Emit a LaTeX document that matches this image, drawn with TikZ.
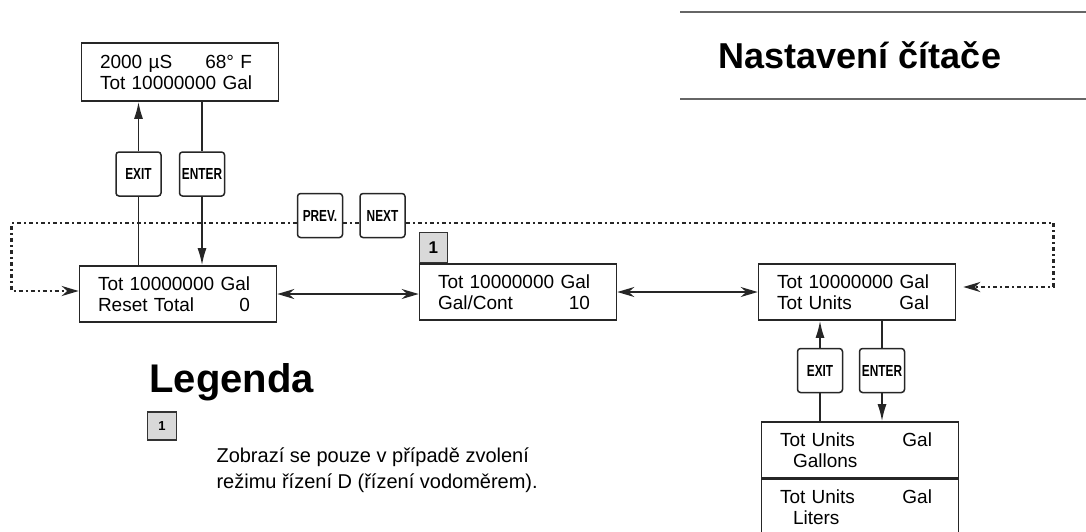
\documentclass[tikz,border=0pt]{standalone}
\usepackage{fontspec}
\setmainfont{Liberation Sans}
\usetikzlibrary{arrows.meta}
\newcommand\lcdrow[2]{\makebox[152pt][l]{#1\hfill#2}}
\newcommand\keytext[1]{\scalebox{0.74}[1]{\bfseries #1}}
\begin{document}
\begin{tikzpicture}[x=1pt,y=1pt,
  lcd/.style={draw=black!85, line width=1.6pt, minimum width=197pt, minimum height=56pt, inner xsep=18pt, inner ysep=0pt, text width=160pt, align=left, font=\fontsize{19}{21}\selectfont},
  keycap/.style={draw=black!85, line width=1.5pt, rounded corners=3pt, minimum width=45pt, minimum height=44pt, inner sep=0pt, font=\fontsize{16}{16}\selectfont},
  optmark/.style={draw=black!80, fill=black!15, line width=1.4pt, inner sep=0pt},
  flow/.style={black!85, line width=1.6pt},
  arr/.style={flow, -{Latex[length=17pt,width=9pt]}},
  dbl/.style={flow, {Stealth[length=17pt,width=10pt]}-{Stealth[length=17pt,width=10pt]}},
  loopline/.style={black!85, line width=2.5pt, dash pattern=on 4pt off 3pt on 2pt off 3pt},
  titleline/.style={black!60, line width=2.5pt}]
\useasboundingbox (0,0) rectangle (1086,-531);
\clip (0,0) rectangle (1086,-531);
\draw [titleline] (680,-12) -- (1086,-12);
\draw [titleline] (680,-99) -- (1086,-99);
\node [anchor=base, font=\fontsize{36}{36}\bfseries] (title) at (860,-68) {Nastavení čítače};
\node [lcd, minimum height=58pt] (lcdmain) at (180,-72) {\lcdrow{2000 µS}{68° F}\\Tot 10000000 Gal};
\node [keycap] (exitA) at (138.5,-174) {\keytext{EXIT}};
\node [keycap] (enterA) at (202,-174) {\keytext{ENTER}};
\node [keycap] (prevkey) at (320,-215.5) {\keytext{PREV.}};
\node [keycap] (nextkey) at (382.5,-215.5) {\keytext{NEXT}};
\node [lcd] (resetbox) at (178,-294) {Tot 10000000 Gal\\\lcdrow{Reset Total}{0}};
\node [lcd] (galbox) at (518,-292) {Tot 10000000 Gal\\\lcdrow{Gal/Cont}{10}};
\node [optmark, minimum width=28pt, minimum height=30pt, anchor=south west, font=\fontsize{17}{17}\bfseries] (optmark) at (galbox.north west) {1};
\node [lcd] (unitsbox) at (857,-292) {Tot 10000000 Gal\\\lcdrow{Tot Units}{Gal}};
\node [keycap] (exitB) at (820,-370.5) {\keytext{EXIT}};
\node [keycap] (enterB) at (882,-370.5) {\keytext{ENTER}};
\node [lcd] (gallonsbox) at (860,-450) {\lcdrow{Tot Units}{Gal}\\\hspace*{13pt}Gallons};
\node [lcd] (litersbox) at (860,-507) {\lcdrow{Tot Units}{Gal}\\\hspace*{13pt}Liters};
\node [anchor=base west, font=\fontsize{40}{40}\bfseries] (legend) at (146,-392) {Legenda};
\node [optmark, minimum width=29pt, minimum height=28pt, font=\fontsize{13}{13}\bfseries] (legmark) at (162,-426) {1};
\node [anchor=base west, align=left, font=\fontsize{20}{26}\selectfont] (legtext) at (213,-488) {Zobrazí se pouze v případě zvolení\\režimu řízení D (řízení vodoměrem).};
\draw [arr] (exitA.north) -- (exitA.north |- lcdmain.south);
\draw [flow] (resetbox.north -| exitA.south) -- (exitA.south);
\draw [flow] (lcdmain.south -| enterA.north) -- (enterA.north);
\draw [arr] (enterA.south) -- (enterA.south |- resetbox.north);
\draw [dbl] (resetbox.east) -- (resetbox.east -| galbox.west);
\draw [dbl] (galbox.east) -- (unitsbox.west);
\draw [loopline] ([yshift=-7.5pt]prevkey.east) -- ([yshift=-7.5pt]nextkey.west);
\draw [loopline, -{Stealth[length=17pt,width=10pt]}] ([yshift=-7.5pt]prevkey.west) -| ([xshift=-67pt,yshift=3pt]resetbox.west) -- ([yshift=3pt]resetbox.west);
\draw [loopline, -{Stealth[length=17pt,width=10pt]}] ([yshift=-7.5pt]nextkey.east) -| ([xshift=97pt,yshift=5pt]unitsbox.east) -- ([xshift=7pt,yshift=5pt]unitsbox.east);
\draw [arr] (exitB.north) -- (exitB.north |- unitsbox.south);
\draw [flow] (gallonsbox.north -| exitB.south) -- (exitB.south);
\draw [flow] (unitsbox.south -| enterB.north) -- (enterB.north);
\draw [arr] (enterB.south) -- (enterB.south |- gallonsbox.north);
\end{tikzpicture}
\end{document}
